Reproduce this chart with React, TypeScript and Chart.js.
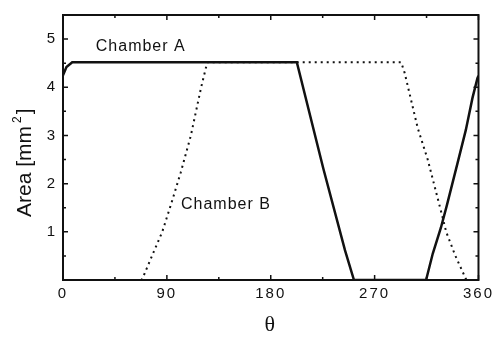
import { useEffect, useRef } from 'react';
import { Chart, registerables } from 'chart.js';

Chart.register(...registerables);

// Crank angle (degrees) and flow area (mm^2)
const chamberATheta = [0, 3, 8, 202.6, 225.6, 244.3, 252.1, 314.6, 320.4, 327.5, 332.7, 341.9, 349.0, 354.8, 359.1, 360];
const chamberAArea = [4.25, 4.42, 4.52, 4.52, 2.31, 0.62, 0, 0, 0.55, 1.09, 1.56, 2.43, 3.11, 3.78, 4.19, 4.24];

const chamberBTheta = [0, 68, 70.6, 78, 86, 94, 102, 110.8, 119.7, 125, 293, 296, 307.4, 316, 329, 332, 340, 349.5, 360];
const chamberBArea = [0, 0, 0.13, 0.55, 1.0, 1.6, 2.23, 3.0, 4.0, 4.52, 4.52, 4.3, 3.15, 2.5, 1.29, 1.0, 0.5, 0, 0];

const xTickLabels = ['0', '90', '180', '270', '360'];
const yTickLabels = ['1', '2', '3', '4', '5'];

const seriesNames = ['Chamber A', 'Chamber B'];
const labelAPos = { theta: 28.4, area: 4.84 };
const labelBPos = { theta: 102.2, area: 1.57 };

const SANS = '"Liberation Sans", Arial, Helvetica, sans-serif';
const SERIF = '"Liberation Serif", "Times New Roman", serif';
const INK = '#111';

const decor = {
  id: 'decor',
  beforeDraw(chart: any) {
    chart.ctx.letterSpacing = '2px';
  },
  afterDraw(chart: any) {
    const { ctx, chartArea } = chart;
    const { left, right, top, bottom } = chartArea;
    const xs = chart.scales.x;
    const ys = chart.scales.y;
    ctx.save();
    ctx.letterSpacing = '0px';
    ctx.strokeStyle = INK;
    ctx.lineWidth = 2;
    ctx.strokeRect(left, top, right - left, bottom - top);

    ctx.lineWidth = 1.5;
    ctx.beginPath();
    xs.ticks.forEach((t: any) => {
      const px = xs.getPixelForValue(t.value);
      const len = t.value % 90 === 0 ? 5 : 3;
      ctx.moveTo(px, bottom);
      ctx.lineTo(px, bottom - len);
      ctx.moveTo(px, top);
      ctx.lineTo(px, top + len);
    });
    ys.ticks.forEach((t: any) => {
      const py = ys.getPixelForValue(t.value);
      const len = Number.isInteger(t.value) ? 5 : 3;
      ctx.moveTo(left, py);
      ctx.lineTo(left + len, py);
      ctx.moveTo(right, py);
      ctx.lineTo(right - len, py);
    });
    ctx.stroke();

    ctx.fillStyle = INK;
    ctx.font = `16px ${SANS}`;
    ctx.letterSpacing = '1px';
    ctx.textBaseline = 'middle';
    ctx.textAlign = 'left';
    ctx.fillText(seriesNames[0], xs.getPixelForValue(labelAPos.theta), ys.getPixelForValue(labelAPos.area));
    ctx.fillText(seriesNames[1], xs.getPixelForValue(labelBPos.theta), ys.getPixelForValue(labelBPos.area));

    // y-axis title with superscript
    ctx.letterSpacing = '0px';
    ctx.translate(25, 217);
    ctx.rotate(-Math.PI / 2);
    ctx.font = `21px ${SANS}`;
    ctx.fillText('Area [mm', 0, 0);
    let w = ctx.measureText('Area [mm').width + 3;
    ctx.font = `12px ${SANS}`;
    ctx.fillText('2', w, -7);
    w += ctx.measureText('2').width + 2;
    ctx.font = `21px ${SANS}`;
    ctx.fillText(']', w, 0);
    ctx.restore();
  },
};

export default function App() {
  const ref = useRef<HTMLCanvasElement>(null);
  useEffect(() => {
    if (!ref.current) return;
    const chart = new Chart(ref.current, {
      type: 'line',
      data: {
        datasets: [
          {
            label: seriesNames[0],
            data: chamberATheta.map((t, i) => ({ x: t, y: chamberAArea[i] })),
            borderColor: INK,
            borderWidth: 2.5,
            pointRadius: 0,
            tension: 0,
            fill: false,
          },
          {
            label: seriesNames[1],
            data: chamberBTheta.map((t, i) => ({ x: t, y: chamberBArea[i] })),
            borderColor: INK,
            borderWidth: 2,
            borderDash: [2, 4],
            pointRadius: 0,
            tension: 0,
            fill: false,
          },
        ],
      },
      options: {
        responsive: false,
        animation: false,
        devicePixelRatio: 1,
        layout: { padding: { top: 8, right: 15, left: 0, bottom: 0 } },
        plugins: { legend: { display: false }, tooltip: { enabled: false } },
        scales: {
          x: {
            type: 'linear',
            min: 0,
            max: 360,
            grid: { display: false, drawTicks: false },
            border: { display: false },
            ticks: {
              stepSize: 45,
              autoSkip: false,
              maxRotation: 0,
              padding: 5,
              color: INK,
              font: { family: SANS, size: 15 },
              callback: (v: any) => (xTickLabels.includes(String(v)) ? String(v) : ''),
            },
            title: {
              display: true,
              text: 'θ',
              color: INK,
              font: { family: SERIF, size: 22 },
              padding: { top: 0, bottom: 0 },
            },
            afterFit: (s: any) => {
              s.height = 58;
            },
          },
          y: {
            type: 'linear',
            min: 0,
            max: 5.5,
            grid: { display: false, drawTicks: false },
            border: { display: false },
            ticks: {
              stepSize: 0.5,
              autoSkip: false,
              padding: 6,
              color: INK,
              font: { family: SANS, size: 15 },
              callback: (v: any) => (yTickLabels.includes(String(v)) ? String(v) : ''),
            },
            afterFit: (s: any) => {
              s.width = 63;
            },
          },
        },
      },
      plugins: [decor],
    });
    return () => chart.destroy();
  }, []);
  return (
    <div style={{ position: 'absolute', left: 0, top: 0, width: 496, height: 338, background: '#fff' }}>
      <canvas ref={ref} width={496} height={338} style={{ display: 'block' }} />
    </div>
  );
}
